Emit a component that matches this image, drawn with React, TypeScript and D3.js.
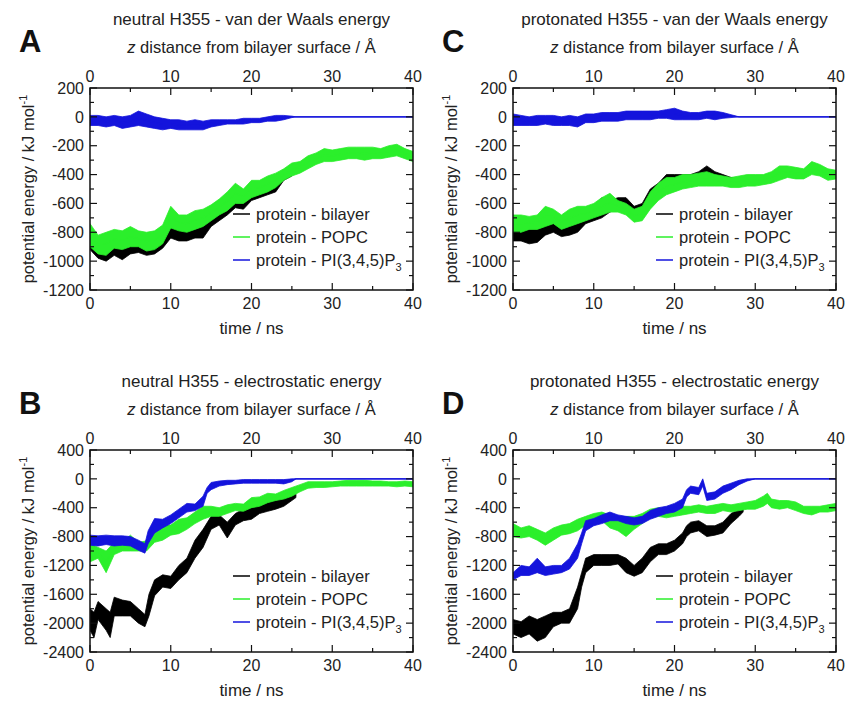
import React from "react";
import * as d3 from "d3";

type Pt = [number, number, number]; // [time ns, low kJ/mol, high kJ/mol]

// ---------- Panel A: neutral H355 - van der Waals ----------
const A_bilayer: Pt[] = [
  [0, -920, -820], [1, -980, -880], [2, -1000, -900], [3, -960, -870], [4, -990, -880],
  [5, -950, -850], [6, -940, -850], [7, -960, -860], [8, -950, -850], [9, -910, -800],
  [10, -840, -700], [11, -860, -740], [12, -860, -750], [13, -840, -740], [14, -840, -720],
  [15, -760, -660], [16, -720, -620], [17, -680, -570], [18, -630, -500], [19, -640, -530],
  [20, -580, -480], [21, -560, -470], [22, -540, -450], [23, -520, -420], [24, -440, -380],
  [25, -410, -330],
];
const A_popc: Pt[] = [
  [0, -900, -740], [1, -950, -820], [2, -960, -800], [3, -910, -780], [4, -920, -790],
  [5, -900, -760], [6, -900, -790], [7, -930, -800], [8, -920, -790], [9, -880, -750],
  [10, -770, -620], [11, -790, -680], [12, -800, -680], [13, -780, -650], [14, -760, -640],
  [15, -720, -610], [16, -680, -570], [17, -650, -520], [18, -600, -460], [19, -600, -500],
  [20, -560, -440], [21, -540, -440], [22, -520, -410], [23, -490, -390], [24, -440, -360],
  [25, -410, -320], [26, -390, -310], [27, -360, -270], [28, -330, -250], [29, -310, -220],
  [30, -310, -230], [31, -300, -220], [32, -290, -210], [33, -290, -210], [34, -300, -210],
  [35, -290, -210], [36, -290, -220], [37, -280, -200], [38, -270, -190], [39, -290, -220],
  [40, -310, -240],
];
const A_pip3: Pt[] = [
  [0, -60, 10], [1, -60, 10], [2, -70, 0], [3, -60, 10], [4, -80, 0], [5, -70, 10],
  [6, -60, 40], [7, -70, 20], [8, -80, 0], [9, -90, -10], [10, -80, -20], [11, -90, -20],
  [12, -90, -30], [13, -90, -20], [14, -90, -30], [15, -70, -20], [16, -60, -20],
  [17, -50, -20], [18, -50, -20], [19, -50, -10], [20, -40, -10], [21, -40, -10],
  [22, -30, 0], [23, -30, 10], [24, -20, 10], [25, -5, 5], [25.5, 0, 0], [40, 0, 0],
];

// ---------- Panel C: protonated H355 - van der Waals ----------
const C_bilayer: Pt[] = [
  [0, -860, -740], [1, -860, -760], [2, -880, -780], [3, -870, -760], [4, -820, -700],
  [5, -800, -680], [6, -830, -740], [7, -820, -720], [8, -800, -680], [9, -740, -640],
  [10, -720, -620], [11, -700, -560], [12, -660, -580], [13, -640, -560], [14, -640, -560],
  [15, -720, -620], [16, -700, -600], [17, -620, -500], [18, -560, -460], [19, -520, -400],
  [20, -500, -400], [21, -480, -400], [22, -480, -400], [23, -460, -380], [24, -460, -340],
  [25, -470, -380], [26, -470, -400], [27, -480, -420], [28, -470, -430],
];
const C_popc: Pt[] = [
  [0, -800, -680], [1, -800, -680], [2, -780, -690], [3, -780, -680], [4, -760, -620],
  [5, -740, -640], [6, -780, -680], [7, -760, -640], [8, -740, -620], [9, -720, -620],
  [10, -700, -600], [11, -680, -560], [12, -660, -530], [13, -660, -580], [14, -680, -600],
  [15, -730, -640], [16, -720, -620], [17, -640, -520], [18, -580, -460], [19, -540, -420],
  [20, -520, -420], [21, -500, -400], [22, -490, -400], [23, -480, -390], [24, -480, -380],
  [25, -480, -400], [26, -480, -410], [27, -490, -420], [28, -490, -410], [29, -480, -400],
  [30, -480, -400], [31, -470, -400], [32, -460, -380], [33, -440, -340], [34, -420, -340],
  [35, -430, -350], [36, -430, -360], [37, -400, -310], [38, -410, -330], [39, -440, -360],
  [40, -430, -370],
];
const C_pip3: Pt[] = [
  [0, -60, 20], [1, -60, 10], [2, -60, 0], [3, -60, 10], [4, -50, 10], [5, -60, 10],
  [6, -60, 0], [7, -60, 10], [8, -70, 0], [9, -40, 20], [10, -40, 20], [11, -30, 30],
  [12, -30, 30], [13, -30, 30], [14, -20, 40], [15, -20, 40], [16, -20, 40], [17, -20, 40],
  [18, -10, 40], [19, -10, 50], [20, -20, 60], [21, -20, 40], [22, -20, 30], [23, -20, 30],
  [24, -10, 40], [25, -20, 40], [26, -10, 30], [27, -5, 15], [28, 0, 0], [40, 0, 0],
];

// ---------- Panel B: neutral H355 - electrostatic ----------
const B_bilayer: Pt[] = [
  [0, -2100, -1800], [0.5, -2200, -1850], [1, -1950, -1700], [2, -2100, -1800],
  [2.5, -2200, -1850], [3, -1900, -1640], [4, -1900, -1680], [5, -1900, -1700],
  [6, -2000, -1800], [6.8, -2050, -1880], [7.3, -1900, -1600], [8, -1620, -1400],
  [9, -1500, -1330], [10, -1520, -1350], [11, -1400, -1200], [12, -1300, -1100],
  [13, -1100, -850], [14, -950, -700], [15, -700, -520], [16, -640, -500], [17, -820, -600],
  [18, -640, -480], [19, -580, -420], [20, -560, -400], [21, -480, -340], [22, -450, -300],
  [23, -420, -300], [24, -380, -260], [25, -300, -200], [25.5, -260, -180],
];
const B_popc: Pt[] = [
  [0, -1150, -900], [1, -1100, -950], [2, -1300, -1000], [3, -1050, -880], [4, -1000, -880],
  [5, -1000, -780], [6, -1000, -880], [7, -1000, -860], [8, -880, -700], [9, -850, -640],
  [10, -780, -640], [11, -760, -560], [12, -700, -540], [13, -620, -460], [14, -560, -380],
  [15, -520, -380], [16, -520, -400], [17, -480, -360], [18, -440, -340], [19, -450, -350],
  [20, -400, -260], [21, -380, -250], [22, -330, -200], [23, -300, -210], [24, -280, -160],
  [25, -240, -120], [26, -180, -80], [27, -130, -40], [28, -120, -40], [29, -120, -40],
  [30, -110, -40], [31, -100, -30], [32, -100, -20], [33, -100, -20], [34, -100, -20],
  [35, -100, -30], [36, -100, -30], [37, -100, -40], [38, -110, -40], [39, -100, -30],
  [40, -110, -40],
];
const B_pip3: Pt[] = [
  [0, -920, -780], [1, -930, -790], [2, -910, -780], [3, -930, -790], [4, -920, -790],
  [5, -930, -800], [6, -990, -850], [6.8, -1030, -900], [7.2, -900, -720], [8, -750, -550],
  [9, -680, -560], [10, -620, -500], [11, -540, -420], [12, -460, -340], [13, -440, -350],
  [14, -380, -240], [14.5, -200, -120], [15, -150, -50], [16, -100, -30], [17, -80, -20],
  [18, -70, -20], [19, -60, -10], [20, -60, -10], [21, -60, -10], [22, -60, -10],
  [23, -60, -10], [24, -70, -10], [25, -40, 0], [25.5, 0, 0], [40, 0, 0],
];

// ---------- Panel D: protonated H355 - electrostatic ----------
const D_bilayer: Pt[] = [
  [0, -2150, -1950], [1, -2200, -1980], [2, -2150, -1900], [3, -2250, -1950], [4, -2200, -1900],
  [5, -2050, -1850], [6, -2000, -1850], [7, -2000, -1800], [8, -1800, -1500], [8.5, -1500, -1300],
  [9, -1300, -1100], [10, -1200, -1050], [11, -1200, -1050], [12, -1200, -1050], [13, -1180, -1050],
  [14, -1300, -1100], [15, -1350, -1200], [16, -1300, -1100], [17, -1150, -950], [18, -1050, -900],
  [19, -1050, -900], [20, -1000, -850], [21, -900, -750], [21.5, -800, -650], [22, -750, -600],
  [23, -720, -580], [24, -800, -650], [25, -780, -650], [26, -750, -600], [27, -620, -480],
  [28, -520, -420], [28.5, -460, -400],
];
const D_popc: Pt[] = [
  [0, -800, -620], [1, -820, -680], [2, -800, -650], [3, -850, -700], [4, -920, -750],
  [5, -850, -680], [6, -780, -640], [7, -760, -620], [8, -720, -560], [9, -640, -520],
  [10, -600, -480], [11, -580, -460], [12, -680, -500], [13, -720, -540], [14, -800, -520],
  [15, -700, -520], [16, -620, -480], [17, -540, -420], [18, -520, -400], [19, -540, -420],
  [20, -520, -400], [21, -500, -380], [22, -480, -380], [23, -460, -360], [24, -480, -380],
  [25, -480, -360], [26, -440, -340], [27, -460, -360], [28, -440, -340], [29, -420, -320],
  [30, -420, -300], [31, -380, -240], [31.5, -340, -200], [32, -400, -280], [33, -420, -300],
  [34, -400, -300], [35, -440, -320], [36, -480, -380], [37, -500, -380], [38, -460, -380],
  [39, -460, -360], [40, -440, -340],
];
const D_pip3: Pt[] = [
  [0, -1400, -1300], [1, -1340, -1200], [2, -1340, -1220], [3, -1300, -1100], [4, -1340, -1220],
  [5, -1320, -1200], [6, -1300, -1200], [7, -1250, -1100], [8, -1100, -900], [8.5, -900, -750],
  [9, -720, -580], [10, -650, -550], [11, -620, -500], [12, -580, -460], [13, -580, -500],
  [14, -620, -520], [15, -640, -540], [16, -620, -520], [17, -560, -440], [18, -520, -400],
  [19, -480, -380], [20, -460, -340], [21, -400, -280], [21.5, -250, -150], [22, -200, -100],
  [23, -220, -120], [23.5, -100, 0], [24, -300, -200], [25, -280, -180], [26, -200, -100],
  [27, -150, -60], [28, -80, -20], [29, -30, 0], [30, 0, 0], [40, 0, 0],
];

// ---------- shared labels / ticks ----------
const xTicks = [0, 10, 20, 30, 40];
const xMinor = [5, 15, 25, 35];
const vdwTicks = [200, 0, -200, -400, -600, -800, -1000, -1200];
const vdwMinor = [100, -100, -300, -500, -700, -900, -1100];
const elecTicks = [400, 0, -400, -800, -1200, -1600, -2000, -2400];
const elecMinor = [200, -200, -600, -1000, -1400, -1800, -2200];
const legendNames = ["protein - bilayer", "protein - POPC", "protein - PI(3,4,5)P"];
const titles = [
  "neutral H355 - van der Waals energy",
  "protonated H355 - van der Waals energy",
  "neutral H355 - electrostatic energy",
  "protonated H355 - electrostatic energy",
];
const letters = ["A", "C", "B", "D"];

const COLORS = ["#000000", "#2bef2b", "#1414dc"];
const FONT = "'Liberation Sans', Arial, Helvetica, sans-serif";
const TXT = "#222";

interface PanelProps {
  left: number;
  top: number;
  title: string;
  letter: string;
  yDomain: [number, number];
  yMajor: number[];
  yMinor: number[];
  series: Pt[][];
  clipId: string;
}

const W = 323;
const H = 202;

function Panel({ left, top, title, letter, yDomain, yMajor, yMinor, series, clipId }: PanelProps) {
  const x = d3.scaleLinear().domain([0, 40]).range([left, left + W]);
  const y = d3.scaleLinear().domain(yDomain).range([top + H, top]);
  const area = d3
    .area<Pt>()
    .x((d) => x(d[0]))
    .y0((d) => y(d[1]))
    .y1((d) => y(d[2]));
  const mid = d3
    .line<Pt>()
    .x((d) => x(d[0]))
    .y((d) => y((d[1] + d[2]) / 2));
  const bottom = top + H;
  const right = left + W;
  const cx = left + W / 2;
  const major = 7;
  const minor = 4;
  return (
    <g>
      <text x={left - 71} y={top - 36} fontSize={31} fontWeight="bold" fontFamily={FONT} fill="#111">
        {letter}
      </text>
      <text x={cx} y={top - 63} fontSize={17} textAnchor="middle" fontFamily={FONT} fill={TXT}>
        {title}
      </text>
      <text x={cx} y={top - 35} fontSize={16.5} textAnchor="middle" fontFamily={FONT} fill={TXT}>
        <tspan fontStyle="italic">z</tspan> distance from bilayer surface / Å
      </text>
      <clipPath id={clipId}>
        <rect x={left} y={top} width={W} height={H} />
      </clipPath>
      <g clipPath={`url(#${clipId})`}>
        {series.map((s, i) => (
          <g key={i}>
            <path d={area(s) || ""} fill={COLORS[i]} stroke={COLORS[i]} strokeWidth={0.8} />
            <path d={mid(s) || ""} fill="none" stroke={COLORS[i]} strokeWidth={1.2} />
          </g>
        ))}
      </g>
      {xTicks.map((t) => (
        <g key={"xt" + t}>
          <line x1={x(t)} x2={x(t)} y1={bottom} y2={bottom - major} stroke="#111" strokeWidth={1.2} />
          <line x1={x(t)} x2={x(t)} y1={top} y2={top + major} stroke="#111" strokeWidth={1.2} />
          <text x={x(t)} y={bottom + 19} fontSize={16} textAnchor="middle" fontFamily={FONT} fill={TXT}>
            {t}
          </text>
          <text x={x(t)} y={top - 6} fontSize={16} textAnchor="middle" fontFamily={FONT} fill={TXT}>
            {t}
          </text>
        </g>
      ))}
      {xMinor.map((t) => (
        <g key={"xm" + t}>
          <line x1={x(t)} x2={x(t)} y1={bottom} y2={bottom - minor} stroke="#111" strokeWidth={1.2} />
          <line x1={x(t)} x2={x(t)} y1={top} y2={top + minor} stroke="#111" strokeWidth={1.2} />
        </g>
      ))}
      {yMajor.map((v) => (
        <g key={"yt" + v}>
          <line x1={left} x2={left + major} y1={y(v)} y2={y(v)} stroke="#111" strokeWidth={1.2} />
          <line x1={right} x2={right - major} y1={y(v)} y2={y(v)} stroke="#111" strokeWidth={1.2} />
          <text x={left - 6} y={y(v)} dy="0.36em" fontSize={16} textAnchor="end" fontFamily={FONT} fill={TXT}>
            {v}
          </text>
        </g>
      ))}
      {yMinor.map((v) => (
        <g key={"ym" + v}>
          <line x1={left} x2={left + minor} y1={y(v)} y2={y(v)} stroke="#111" strokeWidth={1.2} />
          <line x1={right} x2={right - minor} y1={y(v)} y2={y(v)} stroke="#111" strokeWidth={1.2} />
        </g>
      ))}
      <rect x={left} y={top} width={W} height={H} fill="none" stroke="#111" strokeWidth={1.5} />
      <text x={cx} y={bottom + 44} fontSize={17} textAnchor="middle" fontFamily={FONT} fill={TXT}>
        time / ns
      </text>
      <text
        transform={`translate(${left - 62},${top + H / 2}) rotate(-90)`}
        fontSize={16.5}
        textAnchor="middle"
        dy="0.36em"
        fontFamily={FONT}
        fill={TXT}
      >
        potential energy / kJ mol
        <tspan fontSize={11} dy="-7">-1</tspan>
      </text>
      {legendNames.map((name, i) => {
        const ly = bottom - 76 + i * 23;
        return (
          <g key={"lg" + i}>
            <line x1={left + 143} x2={left + 160} y1={ly} y2={ly} stroke={COLORS[i]} strokeWidth={1.5} />
            <text x={left + 166} y={ly} dy="0.36em" fontSize={16.5} fontFamily={FONT} fill={TXT}>
              {name}
              {i === 2 ? <tspan fontSize={11} dy="5">3</tspan> : null}
            </text>
          </g>
        );
      })}
    </g>
  );
}

export default function App() {
  return (
    <div style={{ position: "absolute", left: 0, top: 0 }}>
      <svg width={847} height={702} style={{ display: "block", background: "#fff" }}>
        <Panel left={90} top={88} title={titles[0]} letter={letters[0]} yDomain={[-1200, 200]}
          yMajor={vdwTicks} yMinor={vdwMinor} series={[A_bilayer, A_popc, A_pip3]} clipId="cA" />
        <Panel left={513} top={88} title={titles[1]} letter={letters[1]} yDomain={[-1200, 200]}
          yMajor={vdwTicks} yMinor={vdwMinor} series={[C_bilayer, C_popc, C_pip3]} clipId="cC" />
        <Panel left={90} top={450} title={titles[2]} letter={letters[2]} yDomain={[-2400, 400]}
          yMajor={elecTicks} yMinor={elecMinor} series={[B_bilayer, B_popc, B_pip3]} clipId="cB" />
        <Panel left={513} top={450} title={titles[3]} letter={letters[3]} yDomain={[-2400, 400]}
          yMajor={elecTicks} yMinor={elecMinor} series={[D_bilayer, D_popc, D_pip3]} clipId="cD" />
      </svg>
    </div>
  );
}
